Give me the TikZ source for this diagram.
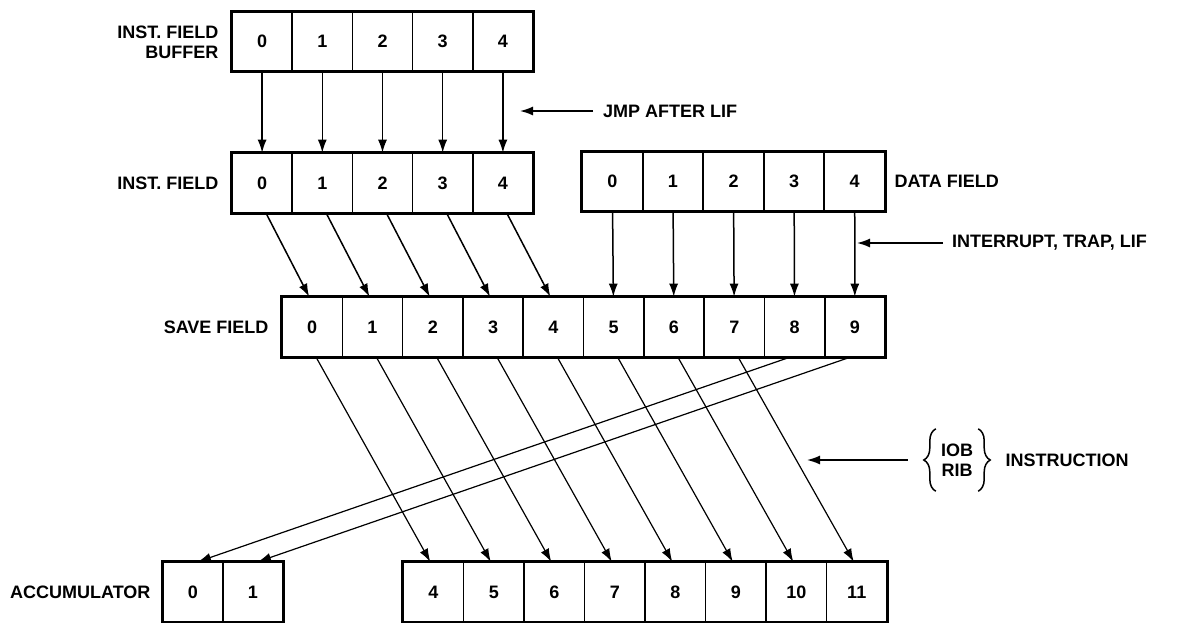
\documentclass[tikz,border=0pt]{standalone}
\usepackage{fontspec}
\setmainfont{Liberation Sans}
\usetikzlibrary{arrows.meta,decorations.pathreplacing}

\begin{document}
\begin{tikzpicture}[x=1pt,y=-1pt,
    font=\fontsize{18}{20}\selectfont\bfseries,
    cell/.style={draw,line width=1.6pt,minimum width=60.3pt,minimum height=59pt,inner sep=0pt},
    frame/.style={line width=2.6pt},
    arr/.style={line width=1.5pt,-{Latex[length=13pt,width=9pt]}},
    curly/.style={line width=1.5pt,decorate,decoration={brace,amplitude=12pt}}]
    \useasboundingbox (0,0) rectangle (1182,622);
    % registers
    \foreach \i in {0,...,4} {
        \node[cell] (buf\i) at (262.1+60.2*\i,41.5) {\i};
        \node[cell] (if\i) at (262.1+60.2*\i,183) {\i};
        \node[cell] (df\i) at (612.3+60.6*\i,181.5) {\i};
    }
    \foreach \i in {0,...,9} \node[cell] (sv\i) at (312.15+60.3*\i,327) {\i};
    \foreach \i in {0,1} \node[cell,minimum width=60pt] (ac\i) at (193+60*\i,592) {\i};
    \foreach \i in {4,...,11} \node[cell,minimum width=60.5pt] (ac\i) at (433.25+60.5*\i-242,592) {\i};
    \draw[frame] (buf0.north west) rectangle (buf4.south east);
    \draw[frame] (if0.north west) rectangle (if4.south east);
    \draw[frame] (df0.north west) rectangle (df4.south east);
    \draw[frame] (sv0.north west) rectangle (sv9.south east);
    \draw[frame] (ac0.north west) rectangle (ac1.south east);
    \draw[frame] (ac4.north west) rectangle (ac11.south east);
    % register names
    \node[anchor=east,align=right] (nbuf) at (222,42) {INST. FIELD\\BUFFER};
    \node[anchor=east] (nif) at (222,183) {INST. FIELD};
    \node[anchor=west] (ndf) at (891,181) {DATA FIELD};
    \node[anchor=east] (nsv) at (272,327) {SAVE FIELD};
    \node[anchor=east] (nac) at (154,592) {ACCUMULATOR};
    % transfers
    \foreach \i in {0,...,4} {
        \pgfmathtruncatemacro\j{\i+5}
        \draw[arr] (buf\i) -- (if\i);
        \draw[arr] ([xshift=4pt]if\i.south) -- ([xshift=-3pt]sv\i.north);
        \draw[arr] (df\i) -- (sv\j);
    }
    \foreach \i in {0,...,7} {
        \pgfmathtruncatemacro\k{\i+4}
        \draw[arr,line width=1.2pt] ([xshift=4pt]sv\i.south) -- ([xshift=-3pt]ac\k.north);
    }
    \draw[arr,line width=1.2pt] ([xshift=-5pt]sv8.south) -- ([xshift=5pt]ac0.north);
    \draw[arr,line width=1.2pt] ([xshift=-5pt]sv9.south) -- ([xshift=5pt]ac1.north);
    % conditions
    \coordinate (jmptip) at (520,111);
    \node[anchor=west,inner xsep=10pt] (jmp) at (593,111) {JMP AFTER LIF};
    \draw[arr] (jmp) -- (jmptip);
    \coordinate (irqtip) at (857,243);
    \node[anchor=west,inner xsep=9pt] (irq) at (943,243) {INTERRUPT, TRAP, LIF};
    \draw[arr] (irq) -- (irqtip);
    \coordinate (iobtip) at (807,460);
    \node[align=center,minimum height=62pt,inner xsep=5pt] (iob) at (957,460) {IOB\\RIB};
    \draw[curly] (iob.south west) -- (iob.north west);
    \draw[curly] (iob.north east) -- (iob.south east);
    \node[anchor=west] (ins) at (1002,460) {INSTRUCTION};
    \draw[arr] ([xshift=-28pt]iob.west) -- (iobtip);
\end{tikzpicture}
\end{document}
